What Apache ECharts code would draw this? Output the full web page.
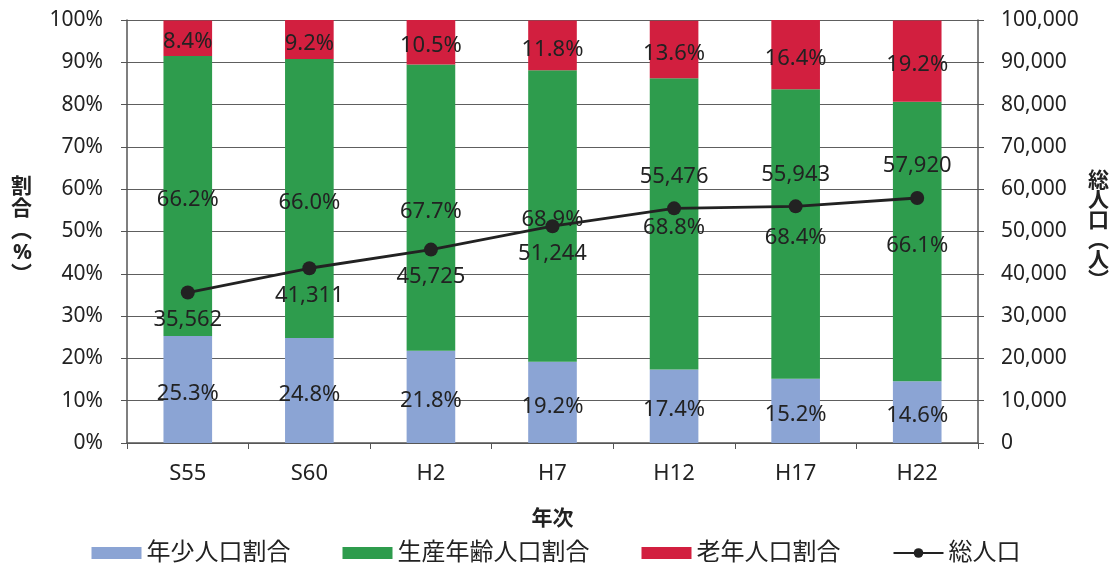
<!DOCTYPE html>
<html><head><meta charset="utf-8">
<script src="https://cdn.jsdelivr.net/npm/echarts@6/dist/echarts.min.js"></script>
<style>html,body{margin:0;padding:0;background:#fff}#c{width:1112px;height:570px}</style>
</head><body><div id="c"></div>
<script>
const categories = ['S55','S60','H2','H7','H12','H17','H22'];
const youth = [25.3,24.8,21.8,19.2,17.4,15.2,14.6];
const working = [66.2,66.0,67.7,68.9,68.8,68.4,66.1];
const elderly = [8.4,9.2,10.5,11.8,13.6,16.4,19.2];
const total = [35562,41311,45725,51244,55476,55943,57920];
const linePos = ['bottom','bottom','bottom','bottom','top','top','top'];

const FONT = '"Noto Sans", "Noto Sans CJK JP", sans-serif';
const TXT = '#222';
const chart = echarts.init(document.getElementById('c'));
const barLabel = {show:true, position:'inside', color:TXT, fontSize:22, fontFamily:FONT,
  offset:[0,4], formatter: p => p.value.toFixed(1) + '%'};
chart.setOption({
  textStyle:{fontFamily:FONT},
  animation:false,
  grid:{left:127, right:134, top:20, bottom:127},
  legend:{
    bottom:0, left:'center', itemWidth:50, itemHeight:12, itemGap:52,
    textStyle:{fontSize:24, color:TXT, fontFamily:FONT},
    data:[
      {name:'年少人口割合', icon:'rect'},
      {name:'生産年齢人口割合', icon:'rect'},
      {name:'老年人口割合', icon:'rect'},
      {name:'総人口'}
    ]
  },
  xAxis:{
    type:'category', data:categories,
    name:'年次', nameLocation:'middle', nameGap:66,
    nameTextStyle:{fontSize:21, fontWeight:'bold', color:TXT},
    axisLine:{lineStyle:{color:'#555', width:1.5}},
    axisTick:{show:true, length:6, lineStyle:{color:'#555'}},
    axisLabel:{fontSize:22, color:TXT, margin:20}
  },
  yAxis:[
    {type:'value', min:0, max:100, interval:10,
     name:'割\n合\n︵\n%\n︶', nameLocation:'middle', nameGap:95, nameRotate:0,
     nameTextStyle:{fontSize:21, fontWeight:'bold', color:TXT, lineHeight:22},
     axisLine:{show:true, lineStyle:{color:'#555', width:1.5}},
     axisTick:{show:true, length:6, lineStyle:{color:'#555'}},
     axisLabel:{fontSize:21, color:TXT, margin:24, formatter:'{value}%'},
     splitLine:{lineStyle:{color:'#5e5e5e', width:1.2}}},
    {type:'value', min:0, max:100000, interval:10000,
     name:'総\n人\n口\n︵\n人\n︶', nameLocation:'middle', nameGap:110, nameRotate:0,
     nameTextStyle:{fontSize:21, fontWeight:'bold', color:TXT, lineHeight:20},
     axisLine:{show:true, lineStyle:{color:'#555', width:1.5}},
     axisTick:{show:true, length:6, lineStyle:{color:'#555'}},
     axisLabel:{fontSize:21, color:TXT, margin:23,
       formatter: v => v.toLocaleString('en-US')},
     splitLine:{show:false}}
  ],
  series:[
    {name:'年少人口割合', type:'bar', stack:'a', barWidth:'40%', data:youth,
     itemStyle:{color:'#8ba4d4'}, label:barLabel},
    {name:'生産年齢人口割合', type:'bar', stack:'a', data:working,
     itemStyle:{color:'#2e9c4d'}, label:barLabel},
    {name:'老年人口割合', type:'bar', stack:'a', data:elderly,
     itemStyle:{color:'#d21f3f'}, label:barLabel},
    {name:'総人口', type:'line', yAxisIndex:1,
     data: total.map((v,i)=>({value:v, label:{position:linePos[i], distance: linePos[i]==='top'?14:9}})),
     symbol:'circle', symbolSize:14,
     lineStyle:{color:'#222', width:2.8}, itemStyle:{color:'#222'},
     label:{show:true, fontSize:22, color:TXT, fontFamily:FONT,
       formatter: p => p.value.toLocaleString('en-US')}}
  ]
});
</script></body></html>
